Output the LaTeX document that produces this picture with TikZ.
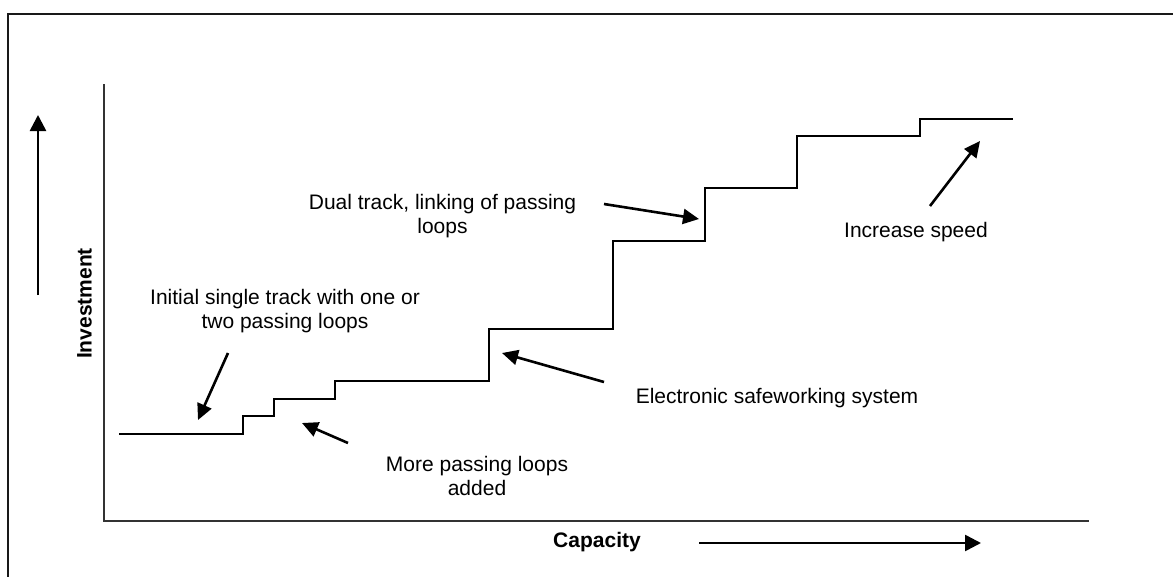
\documentclass[tikz,border=0pt]{standalone}
\usepackage{fontspec}
\setmainfont{Liberation Sans}
\usetikzlibrary{arrows.meta}

\begin{document}
\begin{tikzpicture}[x=1pt,y=-1pt,
  lbl/.style={font=\fontsize{21}{24}\selectfont, inner sep=0pt},
  axlbl/.style={font=\fontsize{21}{24}\selectfont\bfseries, inner sep=0pt},
  axis/.style={line width=1.4pt, draw=black!80},
  frame/.style={line width=2pt, draw=black!90},
  stair/.style={line width=2.5pt, line join=miter},
  pointer/.style={line width=2.6pt, -{Triangle[length=16pt,width=15pt]}},
  dirarrow/.style={line width=2.6pt, -{Triangle[length=16pt,width=16pt]}}
]
\useasboundingbox (0,0) rectangle (1173,576);
\clip (0,0) rectangle (1173,576);

% outer frame (runs off the page on the right and bottom)
\draw[frame] (8,600) |- (1200,13.5);

% axes
\draw[axis] (104,84) -- (104,521) -- (1089,521);

% investment / capacity step curve
\draw[stair] (119,434) -| (243,416) -| (274,399) -| (335,381) -| (489,329)
  -| (613,241) -| (705,188) -| (797,136) -| (920,119) -- (1013,119);

% axis titles and direction arrows
\node[axlbl, rotate=90] (yl) at (84.5,303.5) {Investment};
\node[axlbl] (xl) at (597,542.5) {Capacity};
\coordinate (yFrom) at (38,295);
\coordinate (yTo) at (38,115);
\coordinate (xFrom) at (699,543);
\coordinate (xTo) at (981,543);
\draw[dirarrow] (yFrom) -- (yTo);
\draw[dirarrow] (xFrom) -- (xTo);

% annotations
\node[lbl, align=center] (init) at (285,311.5)
  {Initial single track with one or\\two passing loops};
\node[lbl, align=center] (more) at (477,475.5)
  {More passing loops\\added};
\node[lbl] (elec) at (777,398) {Electronic safeworking system};
\node[lbl, align=center] (dual) at (442.5,216.5)
  {Dual track, linking of passing\\loops};
\node[lbl] (speed) at (916,232.5) {Increase speed};

\coordinate (initTail) at (228,353);
\coordinate (initTip) at (198,420);
\coordinate (moreTail) at (348,443);
\coordinate (moreTip) at (302,423);
\coordinate (elecTail) at (604,382);
\coordinate (elecTip) at (502,353);
\coordinate (dualTail) at (604,204);
\coordinate (dualTip) at (699,219);
\coordinate (speedTail) at (930,206);
\coordinate (speedTip) at (980,141);

\draw[pointer] (initTail) -- (initTip);
\draw[pointer] (moreTail) -- (moreTip);
\draw[pointer] (elecTail) -- (elecTip);
\draw[pointer] (dualTail) -- (dualTip);
\draw[pointer] (speedTail) -- (speedTip);
\end{tikzpicture}
\end{document}
